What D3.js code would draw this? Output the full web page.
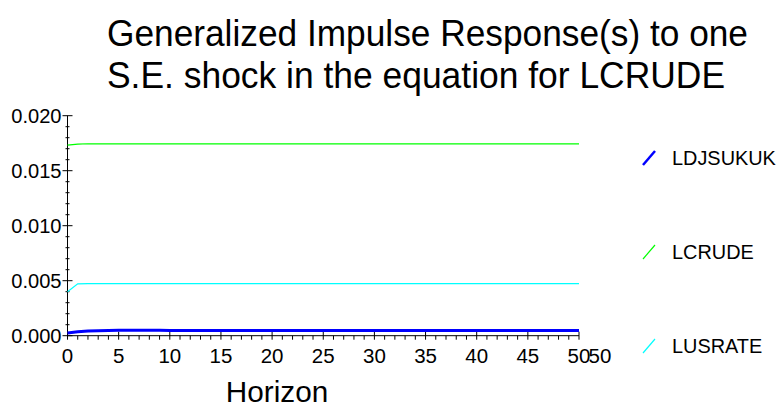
<!doctype html>
<html>
<head>
<meta charset="utf-8">
<script src="https://cdn.jsdelivr.net/npm/d3@7"></script>
<style>
  body { margin: 0; background: #fff; }
  svg text { font-family: "Liberation Sans", Arial, sans-serif; fill: #000; }
</style>
</head>
<body>
<svg id="chart" width="780" height="410"></svg>
<script>
  // horizons 0..50
  var horizons = d3.range(0, 51);

  var ldjsukuk = [
    0.00025, 0.00035, 0.00042, 0.00046, 0.00048, 0.00049, 0.00049, 0.00049, 0.00049, 0.00049,
    0.00048, 0.00048, 0.00048, 0.00048, 0.00048, 0.00047, 0.00047, 0.00047, 0.00047, 0.00047,
    0.00047, 0.00047, 0.00047, 0.00047, 0.00047, 0.00047, 0.00047, 0.00047, 0.00047, 0.00047,
    0.00047, 0.00047, 0.00047, 0.00047, 0.00047, 0.00047, 0.00047, 0.00047, 0.00047, 0.00047,
    0.00047, 0.00047, 0.00047, 0.00047, 0.00047, 0.00047, 0.00047, 0.00047, 0.00047, 0.00047,
    0.00047
  ];
  var lcrude = [
    0.01733, 0.01742, 0.01745, 0.01744, 0.01743, 0.01743, 0.01743, 0.01743, 0.01743, 0.01743,
    0.01743, 0.01743, 0.01743, 0.01743, 0.01743, 0.01743, 0.01743, 0.01743, 0.01743, 0.01743,
    0.01743, 0.01743, 0.01743, 0.01743, 0.01743, 0.01743, 0.01743, 0.01743, 0.01743, 0.01743,
    0.01743, 0.01743, 0.01743, 0.01743, 0.01743, 0.01743, 0.01743, 0.01743, 0.01743, 0.01743,
    0.01743, 0.01743, 0.01743, 0.01743, 0.01743, 0.01743, 0.01743, 0.01743, 0.01743, 0.01743,
    0.01743
  ];
  var lusrate = [
    0.00400, 0.00472, 0.00474, 0.00473, 0.00473, 0.00473, 0.00473, 0.00473, 0.00473, 0.00473,
    0.00473, 0.00473, 0.00473, 0.00473, 0.00473, 0.00473, 0.00473, 0.00473, 0.00473, 0.00473,
    0.00473, 0.00473, 0.00473, 0.00473, 0.00473, 0.00473, 0.00473, 0.00473, 0.00473, 0.00473,
    0.00473, 0.00473, 0.00473, 0.00473, 0.00473, 0.00473, 0.00473, 0.00473, 0.00473, 0.00473,
    0.00473, 0.00473, 0.00473, 0.00473, 0.00473, 0.00473, 0.00473, 0.00473, 0.00473, 0.00473,
    0.00473
  ];

  var seriesNames = ['LDJSUKUK', 'LCRUDE', 'LUSRATE'];
  var seriesColors = ['#0000ff', '#00ff00', '#00ffff'];
  var seriesWidths = [3, 1.2, 1.2];
  var seriesValues = [ldjsukuk, lcrude, lusrate];

  var yTicks = [0, 0.005, 0.010, 0.015, 0.020];
  var xTicks = [0, 5, 10, 15, 20, 25, 30, 35, 40, 45, 50];

  var titleLines = ['Generalized Impulse Response(s) to one', 'S.E. shock in the equation for LCRUDE'];
  var xTitle = 'Horizon';

  var svg = d3.select('#chart');

  var x = d3.scaleLinear().domain([0, 50]).range([67.5, 579]);
  var y = d3.scaleLinear().domain([0, 0.020]).range([335.7, 115.7]);

  // squeeze a text horizontally, the original font is narrower than ours
  function squeeze(sel, k) {
    sel.each(function () {
      var len = this.getComputedTextLength();
      d3.select(this)
        .attr('textLength', len * k)
        .attr('lengthAdjust', 'spacingAndGlyphs');
    });
  }

  // title
  svg.selectAll('text.title')
    .data(titleLines)
    .enter().append('text')
    .attr('class', 'title')
    .attr('x', 107)
    .attr('y', function (d, i) { return 46 + i * 42; })
    .attr('font-size', 36)
    .attr('textLength', function (d, i) { return i === 0 ? 641 : 618; })
    .attr('lengthAdjust', 'spacingAndGlyphs')
    .text(function (d) { return d; });

  // y axis
  var yAxis = svg.append('g').attr('transform', 'translate(' + x(0) + ',0)');
  yAxis.append('line')
    .attr('y1', y(0)).attr('y2', y(0.020))
    .attr('stroke', '#000');
  yAxis.selectAll('line.minor')
    .data(d3.range(0, 21).map(function (i) { return i / 1000; }))
    .enter().append('line')
    .attr('class', 'minor')
    .attr('x1', function (d, i) { return i % 5 === 0 ? -5 : -2; })
    .attr('x2', function (d, i) { return i % 5 === 0 ? 5 : 2; })
    .attr('y1', y).attr('y2', y)
    .attr('stroke', '#000');
  yAxis.selectAll('text')
    .data(yTicks)
    .enter().append('text')
    .attr('x', -6)
    .attr('y', y)
    .attr('dy', '0.35em')
    .attr('text-anchor', 'end')
    .attr('font-size', 20.5)
    .text(d3.format('.3f'))
    .call(squeeze, 0.98);

  // x axis
  var xAxis = svg.append('g').attr('transform', 'translate(0,' + y(0) + ')');
  xAxis.append('line')
    .attr('x1', x(0)).attr('x2', x(50))
    .attr('stroke', '#000');
  xAxis.selectAll('line.minor')
    .data(horizons)
    .enter().append('line')
    .attr('class', 'minor')
    .attr('x1', x).attr('x2', x)
    .attr('y1', function (d) { return d % 5 === 0 ? -4 : 0; })
    .attr('y2', 4)
    .attr('stroke', '#000');
  xAxis.selectAll('text.tick')
    .data(xTicks)
    .enter().append('text')
    .attr('class', 'tick')
    .attr('x', x)
    .attr('y', 27)
    .attr('text-anchor', 'middle')
    .attr('font-size', 20.5)
    .text(function (d) { return d; });
  // duplicated end label
  xAxis.append('text')
    .attr('x', x(50) + 21)
    .attr('y', 27)
    .attr('text-anchor', 'middle')
    .attr('font-size', 20.5)
    .text('50');

  svg.append('text')
    .attr('x', 277)
    .attr('y', 402)
    .attr('text-anchor', 'middle')
    .attr('font-size', 30)
    .text(xTitle)
    .call(squeeze, 0.99);

  // lines
  var line = d3.line()
    .x(function (d, i) { return x(horizons[i]); })
    .y(function (d) { return y(d); });

  svg.selectAll('path.series')
    .data(seriesValues)
    .enter().append('path')
    .attr('class', 'series')
    .attr('fill', 'none')
    .attr('stroke', function (d, i) { return seriesColors[i]; })
    .attr('stroke-width', function (d, i) { return seriesWidths[i]; })
    .attr('d', line);

  // legend
  var legend = svg.selectAll('g.legend')
    .data(seriesNames)
    .enter().append('g')
    .attr('class', 'legend')
    .attr('transform', function (d, i) { return 'translate(643,' + (158 + i * 94) + ')'; });
  legend.append('line')
    .attr('x1', 0).attr('y1', 7)
    .attr('x2', 12).attr('y2', -7)
    .attr('stroke', function (d, i) { return seriesColors[i]; })
    .attr('stroke-width', function (d, i) { return i === 0 ? 2.5 : 1.2; });
  legend.append('text')
    .attr('x', 29)
    .attr('y', 0)
    .attr('dy', '0.35em')
    .attr('font-size', 20.5)
    .text(function (d) { return d; })
    .call(squeeze, 0.97);
</script>
</body>
</html>
